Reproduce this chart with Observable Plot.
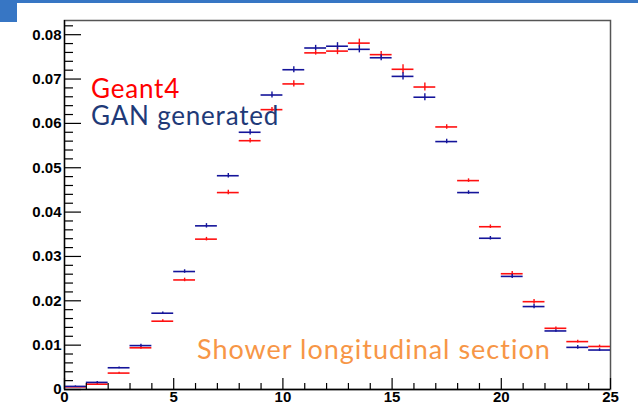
<!DOCTYPE html>
<html><head><meta charset="utf-8">
<script src="https://cdn.jsdelivr.net/npm/d3@7"></script>
<script src="https://cdn.jsdelivr.net/npm/@observablehq/plot@0.6"></script>
<style>
body{margin:0;background:#fff;}
#wrap{position:relative;width:638px;height:406px;overflow:hidden;}
.hdr{position:absolute;background:#3776c4;}
.lbl{position:absolute;font-family:Lato,"Open Sans",sans-serif;white-space:nowrap;line-height:22px;letter-spacing:0.8px;}
</style></head><body>
<div id="wrap">
<div id="chart"></div>
<div class="hdr" style="left:0;top:0;width:638px;height:3px"></div>
<div class="hdr" style="left:0;top:0;width:17px;height:22px"></div>
<div class="lbl" style="left:91px;top:77px;color:#ff0000;font-size:26px">Geant4</div>
<div class="lbl" style="left:91px;top:104px;color:#1f3a78;font-size:26px">GAN generated</div>
<div class="lbl" style="left:197px;top:338px;color:#f79646;font-size:27px;letter-spacing:1px">Shower longitudinal section</div>
</div>
<script>
// bin centres (layer index 0..24, width 1)
const layers = d3.range(25);
const geant4 = [0.0006,0.0012,0.0037,0.0094,0.0154,0.0247,0.0339,0.0444,0.0561,0.0631,0.0689,0.0759,0.0763,0.0781,0.0755,0.0722,0.0682,0.0592,0.0471,0.0367,0.0261,0.0198,0.0138,0.0108,0.0097];
const gan    = [0.0007,0.0016,0.0049,0.0099,0.0172,0.0266,0.0369,0.0482,0.0580,0.0664,0.0721,0.0770,0.0774,0.0767,0.0748,0.0706,0.0659,0.0559,0.0444,0.0341,0.0255,0.0187,0.0132,0.0095,0.0089];
const errG4  = [0.0001,0.0002,0.0002,0.0003,0.0003,0.0004,0.0004,0.0005,0.0005,0.0005,0.0007,0.0005,0.0008,0.0009,0.0007,0.0010,0.0009,0.0005,0.0004,0.0004,0.0005,0.0005,0.0003,0.0003,0.0003];
const errGAN = [0.0001,0.0002,0.0002,0.0003,0.0003,0.0004,0.0005,0.0005,0.0006,0.0007,0.0007,0.0006,0.0008,0.0008,0.0007,0.0008,0.0008,0.0005,0.0004,0.0004,0.0005,0.0005,0.0003,0.0004,0.0003];
const xTickValues = [0,5,10,15,20,25];
const yTickValues = [0,0.01,0.02,0.03,0.04,0.05,0.06,0.07,0.08];

const W = 638, H = 406, mL = 64, mR = 28, mT = 20, mB = 17;
const fw = W - mL - mR, fh = H - mT - mB;

const rows = s => layers.map(i => ({x0: i, x1: i + 1, c: i + 0.5,
  v: s.vals[i], lo: s.vals[i] - s.err[i], hi: s.vals[i] + s.err[i]}));
const g4Rows = rows({vals: geant4, err: errG4});
const ganRows = rows({vals: gan, err: errGAN});

const yMinor = d3.range(0, 0.0831, 0.002).filter(v => Math.abs(v / 0.01 - Math.round(v / 0.01)) > 1e-6);
const xMinor = d3.range(0, 26).filter(v => v % 5 !== 0);
const RED = "#ff1010", BLUE = "#14149a";
const FONT = "'Liberation Sans', Arial, sans-serif";

const chart = Plot.plot({
  width: W, height: H,
  marginLeft: mL, marginRight: mR, marginTop: mT, marginBottom: mB,
  style: {fontFamily: FONT, fontSize: "15px", color: "#000", background: "transparent"},
  x: {domain: [0, 25]},
  y: {domain: [0, 0.0832]},
  marks: [
    Plot.frame({stroke: "#555", strokeWidth: 1.5}),
    Plot.ruleY(g4Rows, {y: "v", x1: "x0", x2: "x1", stroke: RED, strokeWidth: 1.6}),
    Plot.ruleX(g4Rows, {x: "c", y1: "lo", y2: "hi", stroke: RED, strokeWidth: 1.4}),
    Plot.ruleY(ganRows, {y: "v", x1: "x0", x2: "x1", stroke: BLUE, strokeWidth: 1.6}),
    Plot.ruleX(ganRows, {x: "c", y1: "lo", y2: "hi", stroke: BLUE, strokeWidth: 1.4}),
    Plot.tickY(yTickValues, {y: d => d, insetRight: fw - 17, stroke: "#000", strokeWidth: 1.2}),
    Plot.tickY(yMinor, {y: d => d, insetRight: fw - 9, stroke: "#000", strokeWidth: 1.2}),
    Plot.tickX(xTickValues, {x: d => d, insetTop: fh - 11, stroke: "#000", strokeWidth: 1.2}),
    Plot.tickX(xMinor, {x: d => d, insetTop: fh - 6, stroke: "#000", strokeWidth: 1.2}),
    Plot.ruleX([0], {stroke: "#000", strokeWidth: 1.3}),
    Plot.ruleY([0], {stroke: "#000", strokeWidth: 1.3}),
    Plot.axisY({ticks: yTickValues, tickSize: 0, tickPadding: 3, fontSize: 15, fontWeight: "bold", fontFamily: FONT, tickFormat: d => d === 0 ? "0" : d.toFixed(2), label: null}),
    Plot.axisX({ticks: xTickValues, tickSize: 0, tickPadding: 2, fontSize: 15, fontWeight: "bold", fontFamily: FONT, tickFormat: d => String(d), label: null})
  ]
});
document.getElementById("chart").appendChild(chart);
</script>
</body></html>
